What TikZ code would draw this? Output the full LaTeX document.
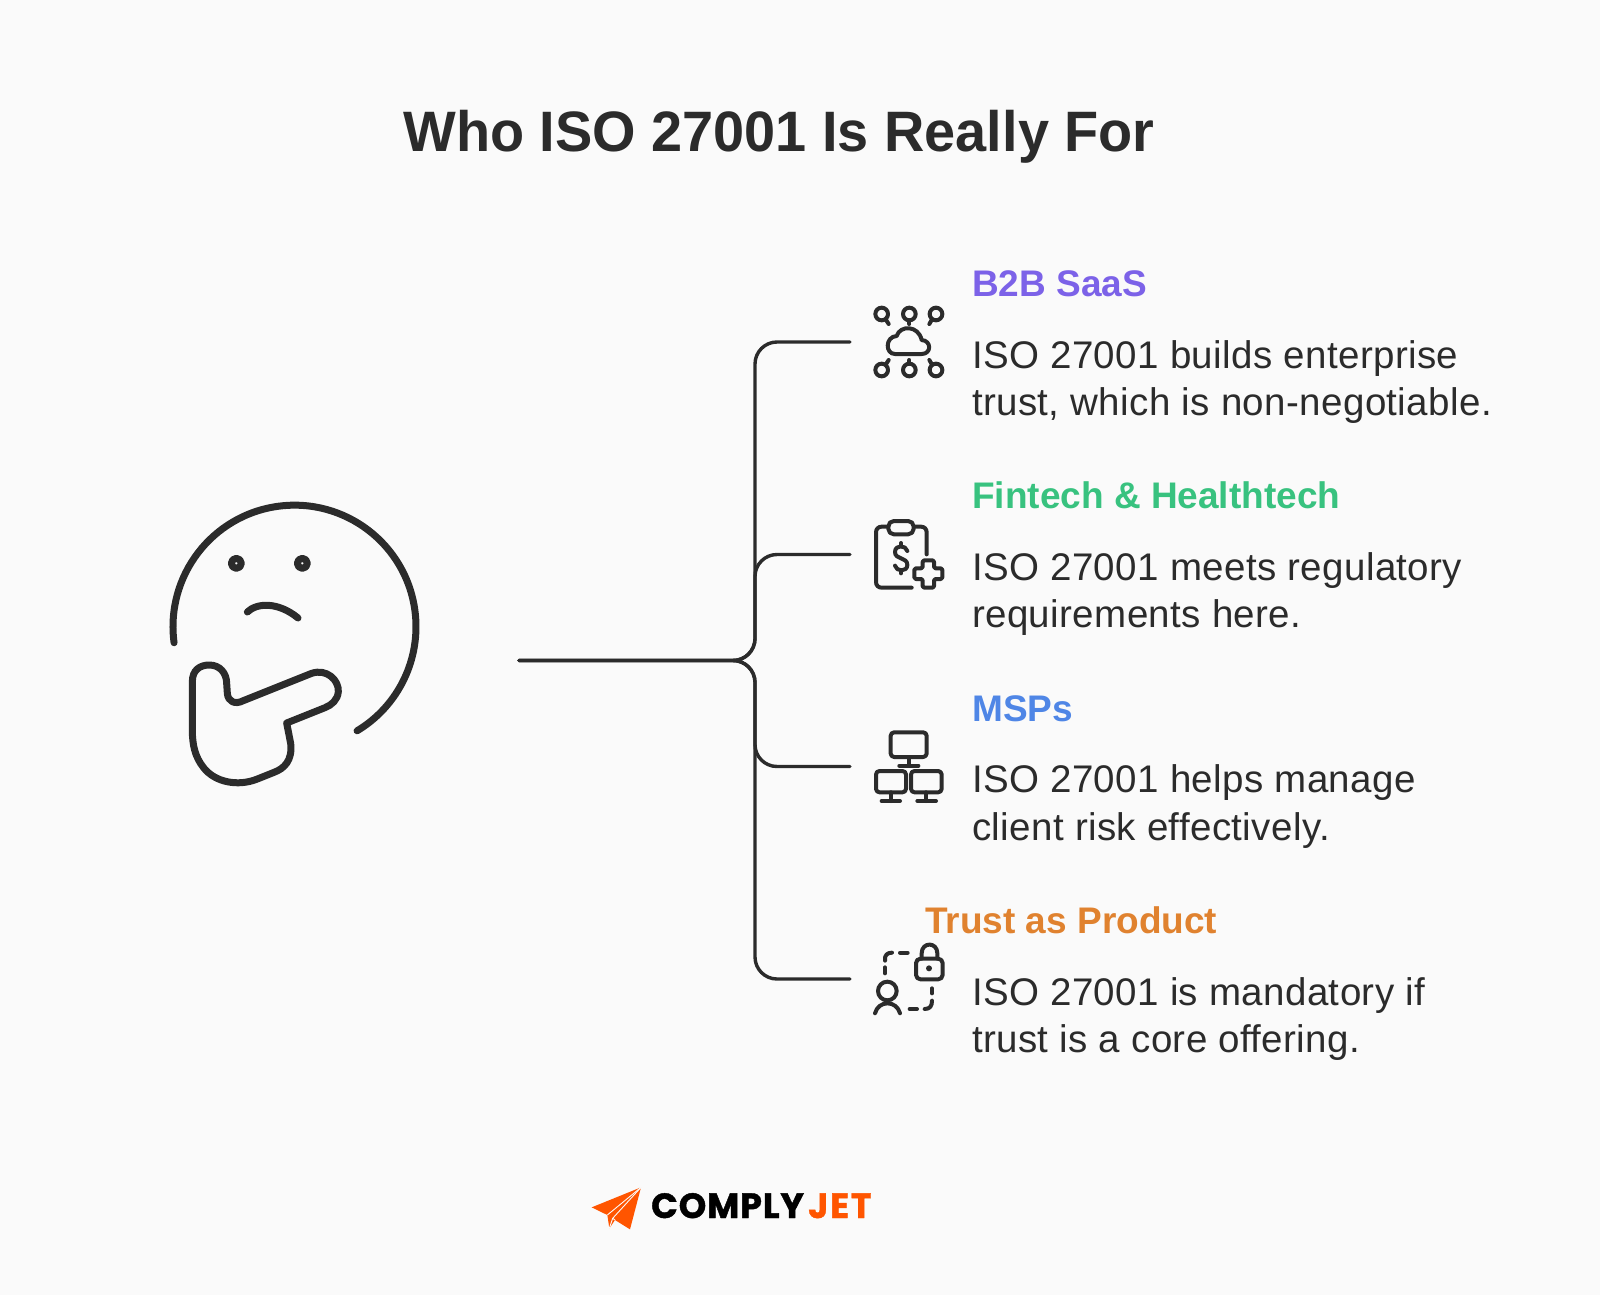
\documentclass[tikz,border=0pt]{standalone}
\usepackage{fontspec}
\setmainfont{Liberation Sans}
\newfontfamily\bodyfont{Liberation Sans}[LetterSpace=1]
\newfontfamily\titlefont{Liberation Sans}[UprightFont=* Bold,FakeStretch=0.98]
\newfontfamily\logofont{Poppins}[UprightFont=* Bold,FakeBold=1.2,LetterSpace=2.5]
\newfontfamily\jetfont{Poppins}[UprightFont=* Bold,FakeBold=1.2,LetterSpace=5]
\definecolor{pagebg}{HTML}{FAFAFA}
\definecolor{inkdark}{HTML}{2B2B2B}
\definecolor{purplehead}{HTML}{7C62E8}
\definecolor{greenhead}{HTML}{38C27F}
\definecolor{bluehead}{HTML}{4F86E6}
\definecolor{orangehead}{HTML}{E0822F}
\definecolor{jetorange}{HTML}{FF5500}
\tikzset{
  titletext/.style={anchor=base,inner sep=0pt,text=inkdark,font=\fontsize{57}{57}\titlefont},
  headtext/.style={anchor=base west,inner sep=0pt,font=\fontsize{37}{37}\selectfont\bfseries},
  bodytext/.style={anchor=west,inner sep=0pt,align=left,text=inkdark,font=\fontsize{38.5}{47.4}\bodyfont},
  logotext/.style={anchor=base west,inner sep=0pt,font=\fontsize{35}{35}\logofont},
  branch/.style={draw=inkdark,line width=3.4pt,rounded corners=22pt,line cap=round},
  facepen/.style={draw=inkdark,line width=7pt,line cap=round,line join=round},
  iconpen/.style={draw=inkdark,line width=4pt,line cap=round,line join=round},
}
\begin{document}
\begin{tikzpicture}[x=1pt,y=-1pt]
  % Fix the page
  \fill[pagebg] (0,0) rectangle (1600,1295);
  \useasboundingbox (0,0) rectangle (1600,1295);

  % Draw the title
  \node[titletext] (title) at (779,151) {Who ISO 27001 Is Really For};

  % Draw the face
  \begin{scope}[shift={(140,480)},scale=1/3]
    \draw[facepen] (294.5*3-420,440) ++(172.4:364.5) arc[start angle=172.4,end angle=419,radius=364.5];
    \draw[facepen] (289,250) circle (15);
    \draw[facepen] (487,250) circle (15);
    \draw[facepen] (322,396) .. controls (350,368) and (415,365) .. (474,414);
    \draw[facepen] (157,605) .. controls (157,570) and (180,555) .. (208,555)
      .. controls (240,555) and (260,580) .. (260,610) -- (262,640)
      .. controls (264,665) and (285,675) .. (310,662) -- (515,580)
      .. controls (560,565) and (597,600) .. (595,635)
      .. controls (593,660) and (575,675) .. (555,683) -- (440,729) -- (452,790)
      .. controls (458,842) and (432,866) .. (402,877) -- (352,897)
      .. controls (295,920) and (225,908) .. (190,862)
      .. controls (165,830) and (157,795) .. (157,750) -- cycle;
  \end{scope}

  % Draw the connectors
  \coordinate (root) at (519,660.5);
  \coordinate (hub) at (755,660.5);
  \coordinate (endsaas) at (850,342);
  \coordinate (endfin) at (850,554.5);
  \coordinate (endmsp) at (850,766.5);
  \coordinate (endtrust) at (850,979);
  \draw[branch] (root) -- (hub) |- (endsaas);
  \draw[branch] (root) -- (hub) |- (endfin);
  \draw[branch] (root) -- (hub) |- (endmsp);
  \draw[branch] (root) -- (hub) |- (endtrust);

  % Draw the cloud icon
  \begin{scope}[shift={(850,290)},scale=1/3]
    \draw[iconpen] (95,72) circle (19);
    \draw[iconpen] (178,72) circle (19);
    \draw[iconpen] (258,72) circle (19);
    \draw[iconpen] (95,240) circle (19);
    \draw[iconpen] (178,240) circle (19);
    \draw[iconpen] (258,240) circle (19);
    \draw[iconpen] (107,88) -- (116,102);
    \draw[iconpen] (178,91) -- (178,102);
    \draw[iconpen] (246,88) -- (238,102);
    \draw[iconpen] (116,210) -- (107,224);
    \draw[iconpen] (178,210) -- (178,221);
    \draw[iconpen] (238,210) -- (246,224);
    \draw[iconpen] (135,192) -- (215,192)
      .. controls (245,192) and (245,152) .. (215,150)
      .. controls (205,105) and (150,105) .. (140,138)
      .. controls (105,140) and (105,192) .. (135,192) -- cycle;
  \end{scope}

  % Draw the clipboard icon
  \begin{scope}[shift={(850,505)},scale=1/3]
    \draw[iconpen] (115,65) -- (95,65) .. controls (85,65) and (78,72) .. (78,82)
      -- (78,231) .. controls (78,241) and (85,248) .. (95,248) -- (185,248);
    \draw[iconpen] (192,65) -- (213,65) .. controls (223,65) and (230,72) .. (230,82) -- (230,148);
    \draw[iconpen,rounded corners=5.5pt] (115,48) rectangle (191,88);
    \draw[iconpen] (172,138) .. controls (168,120) and (135,118) .. (135,141)
      .. controls (135,165) and (172,155) .. (172,180)
      .. controls (172,202) and (138,200) .. (135,182);
    \draw[iconpen] (153,114) -- (153,123);
    \draw[iconpen] (153,197) -- (153,205);
    \draw[iconpen,rounded corners=1.5pt] (218,166) -- (252,166) -- (252,190) -- (277,190)
      -- (277,222) -- (252,222) -- (252,248) -- (218,248) -- (218,222) -- (193,222)
      -- (193,190) -- (218,190) -- cycle;
  \end{scope}

  % Draw the network icon
  \begin{scope}[shift={(850,715)},scale=1/3]
    \draw[iconpen,rounded corners=3.5pt] (122,52) rectangle (230,126);
    \draw[iconpen] (176,126) -- (176,152);
    \draw[iconpen] (148,152) -- (205,152);
    \draw[iconpen,rounded corners=3.5pt] (78,168) rectangle (168,232);
    \draw[iconpen] (122,232) -- (122,258);
    \draw[iconpen] (95,258) -- (150,258);
    \draw[iconpen,rounded corners=3.5pt] (183,168) rectangle (275,232);
    \draw[iconpen] (228,232) -- (228,258);
    \draw[iconpen] (202,258) -- (258,258);
  \end{scope}

  % Draw the lock icon
  \begin{scope}[shift={(850,930)},scale=1/3]
    \draw[iconpen,rounded corners=4.5pt] (198,86) rectangle (278,148);
    \draw[iconpen] (215,86) -- (215,70) .. controls (215,35) and (262,35) .. (262,70) -- (262,86);
    \fill[inkdark] (237,115) circle (9);
    \draw[iconpen] (105,130) -- (105,112);
    \draw[iconpen] (105,92) .. controls (103,75) and (112,68) .. (126,68);
    \draw[iconpen] (150,68) -- (173,68);
    \draw[iconpen] (246,175) -- (246,190);
    \draw[iconpen] (246,212) .. controls (246,228) and (240,237) .. (224,237);
    \draw[iconpen] (179,237) -- (201,237);
    \draw[iconpen] (112,183) circle (28);
    \draw[iconpen] (75,250) .. controls (85,210) and (140,210) .. (150,250);
  \end{scope}

  % Draw the text
  \node[headtext,text=purplehead] (headsaas) at (972,296.5) {B2B SaaS};
  \node[bodytext] (bodysaas) at (972,382) {ISO 27001 builds enterprise\\trust, which is non-negotiable.};
  \node[headtext,text=greenhead] (headfin) at (972,508.5) {Fintech \& Healthtech};
  \node[bodytext] (bodyfin) at (972,594) {ISO 27001 meets regulatory\\requirements here.};
  \node[headtext,text=bluehead] (headmsp) at (972,721) {MSPs};
  \node[bodytext] (bodymsp) at (972,806.5) {ISO 27001 helps manage\\client risk effectively.};
  \node[headtext,text=orangehead] (headtrust) at (925,933.5) {Trust as Product};
  \node[bodytext] (bodytrust) at (972,1019) {ISO 27001 is mandatory if\\trust is a core offering.};

  % Draw the logo
  \begin{scope}[shift={(580,1170)},scale=1/3]
    \fill[jetorange] (183,52) -- (35,112) -- (82,135) -- (88,175) -- (105,150) -- (150,178) -- cycle;
    \draw[pagebg,line width=0.9pt] (183,52) -- (82,135);
    \draw[pagebg,line width=0.9pt] (183,52) -- (98,145) -- (105,150);
    \draw[pagebg,line width=0.9pt] (98,145) -- (88,175);
  \end{scope}
  \node[logotext,text=black] (logocomply) at (651,1218) {COMPLY};
  \node[logotext,text=jetorange,font=\fontsize{35}{35}\jetfont] (logojet) at (808,1218) {JET};
\end{tikzpicture}
\end{document}
